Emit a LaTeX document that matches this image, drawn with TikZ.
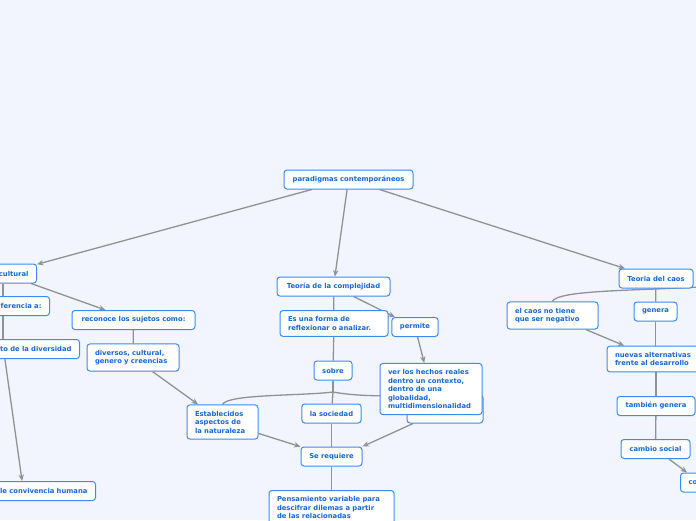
\documentclass[tikz,border=0pt]{standalone}
\usepackage{fontspec}
\setmainfont{DejaVu Sans}
\usetikzlibrary{arrows.meta,backgrounds}
\definecolor{mapbg}{HTML}{F2F5FE}
\definecolor{mapblue}{HTML}{3A8CF0}
\definecolor{mapink}{HTML}{1668D6}
\definecolor{mapgray}{HTML}{929292}
\tikzset{
  >={Stealth[length=6.5pt,width=5.5pt]},
  % noder
  bx/.style={draw=mapblue,fill=white,line width=1pt,rounded corners=3pt,
             text=mapink,font=\fontsize{6.8}{8.5}\selectfont\bfseries,
             inner xsep=8pt,inner ysep=0pt,minimum height=19pt},
  bxl/.style={bx,align=left,inner ysep=6pt,text width=#1},
  cutl/.style={bx,align=right,anchor=east,text width=#1},
  cutr/.style={bx,align=left,anchor=west,text width=#1},
  % kanter
  ln/.style={draw=mapgray,line width=1.3pt},
  arr/.style={->,draw=mapgray,line width=1.3pt},
}
\begin{document}
\begin{tikzpicture}[x=1pt,y=-1pt]
\useasboundingbox (0,0) rectangle (696,520);
  \node[bx,minimum width=129] (par) at (348.5,179.5) {paradigmas contemporáneos};
  % vänster gren
  \node[cutl=51] (intc) at (37,273.5) {cultural};
  \node[cutl=74] (refe) at (50,306) {ferencia a:};
  \node[bx,minimum width=123] (recon) at (133.5,320) {reconoce los sujetos como:};
  \node[cutl=136] (divr) at (80,349) {to de la diversidad};
  \node[bxl=76] (divs) at (133,357.5) {diversos, cultural,\\genero y creencias};
  \node[bxl=55] (estab) at (222.5,422) {Establecidos\\aspectos de\\la naturaleza};
  \node[cutl=128] (conv) at (96,491) {le convivencia humana};
  % mitten
  \node[bx,minimum width=113] (tcomp) at (333.5,286.5) {Teoría de la complejidad};
  \node[bxl=92] (forma) at (334,323.5) {Es una forma de\\reflexionar o analizar.};
  \node[bx,minimum width=46] (perm) at (415,327) {permite};
  \node[bx,minimum width=38] (sobre) at (333,370.5) {sobre};
  \node[bx,minimum width=76,minimum height=28] (hid) at (445,409) {};
  \node[bxl=86] (ver) at (431,389) {ver los hechos reales\\dentro un contexto,\\dentro de una\\globalidad,\\multidimensionalidad};
  \node[bx,minimum width=59] (soc) at (331.5,413.5) {la sociedad};
  \node[bx,minimum width=61] (req) at (331.5,456.5) {Se requiere};
  \node[bxl=109,anchor=north] (pens) at (331.5,490) {Pensamiento variable para\\descifrar dilemas a partir\\de las relacionadas};
  \coordinate (sj) at (333,392);
  % höger gren
  \node[bx,minimum width=74] (tcaos) at (656,278.5) {Teoria del caos};
  \node[bxl=75] (elc) at (552.5,315.5) {el caos no tiene\\que ser negativo};
  \node[bx,minimum width=43] (gen) at (655.5,311.5) {genera};
  \node[bxl=82] (nuev) at (656,359) {nuevas alternativas\\frente al desarrollo};
  \node[bx,minimum width=78] (tamb) at (656,406) {también genera};
  \node[bx,minimum width=69] (camb) at (655.5,449) {cambio social};
  \node[cutr=24] (co) at (680,482.5) {co};
  \coordinate (cj) at (656,289);
  \coordinate (offr) at (700,287);
  \begin{scope}[on background layer]
  \fill[mapbg] (0,0) rectangle (696,520);
  \draw[arr] (par) -- (intc);
  \draw[arr] (par) -- (tcomp);
  \draw[arr] (par) -- (tcaos);
  \draw[ln] (intc) -- (intc |- refe.north);
  \draw[ln] (intc |- refe.south) -- (intc |- divr.north);
  \draw[arr] (intc) -- (recon);
  \draw[ln] (recon) -- (divs);
  \draw[arr] (divr) -- (conv);
  \draw[arr] (divs) -- (estab);
  \draw[ln] (tcomp) -- (forma);
  \draw[ln] (forma) -- (sobre);
  \draw[arr] (tcomp) -- (perm);
  \draw[arr] (perm) -- (ver);
  \draw[ln] (sobre) -- (sj);
  \draw[ln] (sj) .. controls (300,396) and (228,394) .. (estab.north);
  \draw[ln] (sj) -- (soc);
  \draw[ln] (sj) .. controls (360,397) and (395,396) .. (hid.north west);
  \draw[ln] (soc) -- (req);
  \draw[arr] (estab) -- (req);
  \draw[arr] (hid) -- (req.north east);
  \draw[ln] (req) -- (pens);
  \draw[ln] (tcaos) -- (gen);
  \draw[ln] (cj) .. controls (600,291) and (556,293) .. (elc.north);
  \draw[ln] (cj) -- (offr);
  \draw[ln] (gen) -- (gen |- nuev.north);
  \draw[arr] (elc) -- (nuev);
  \draw[ln] (nuev) -- (tamb);
  \draw[ln] (tamb) -- (camb);
  \draw[arr] (camb) -- (co);
  \end{scope}
\end{tikzpicture}
\end{document}
